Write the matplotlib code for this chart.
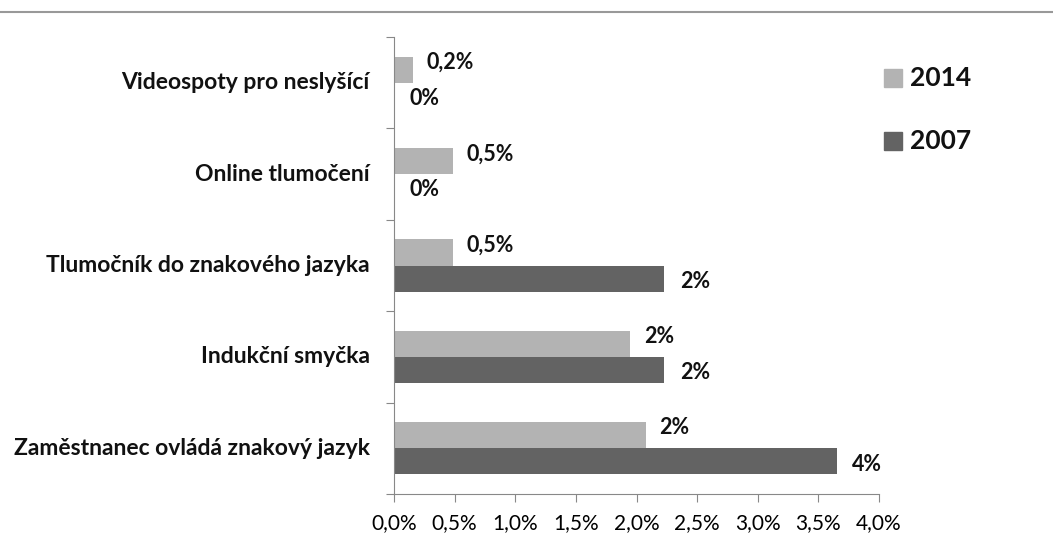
import matplotlib
matplotlib.use("Agg")
import matplotlib.pyplot as plt
import numpy as np
from matplotlib.lines import Line2D
from matplotlib.patches import Rectangle

categories = ["Videospoty pro neslyšící", "Online tlumočení", "Tlumočník do znakového jazyka",
              "Indukční smyčka", "Zaměstnanec ovládá znakový jazyk"]
values_2014 = [0.16, 0.49, 0.49, 1.95, 2.08]
values_2007 = [0.0, 0.0, 2.23, 2.23, 3.65]
labels_2014 = ["0,2%", "0,5%", "0,5%", "2%", "2%"]
labels_2007 = ["0%", "0%", "2%", "2%", "4%"]
xticks = [0.0, 0.5, 1.0, 1.5, 2.0, 2.5, 3.0, 3.5, 4.0]
xtick_labels = ["0,0%", "0,5%", "1,0%", "1,5%", "2,0%", "2,5%", "3,0%", "3,5%", "4,0%"]
series_names = ["2014", "2007"]

c14 = "#b3b3b3"
c07 = "#636363"
font = ["Lato", "DejaVu Sans"]

fig = plt.figure(figsize=(10.53, 5.52), dpi=100)
ax = fig.add_axes([394/1053, 1-494/552, (879-394)/1053, (494-37)/552])

n = len(categories)
ypos = np.arange(n)  # top to bottom
h = 0.285
ax.barh(ypos - h/2, values_2014, height=h, color=c14)
ax.barh(ypos + h/2, values_2007, height=h, color=c07)
ax.set_ylim(n - 0.5, -0.5)
ax.set_xlim(0, 4.0)

for i in range(n):
    ax.text(values_2014[i] + 0.11, ypos[i] - h/2 - 0.08, labels_2014[i], va="center", ha="left",
            fontsize=15.5, fontweight="bold", family=font, color="#111111")
    ax.text(values_2007[i] + 0.13, ypos[i] + h/2 + 0.03, labels_2007[i], va="center", ha="left",
            fontsize=15.5, fontweight="bold", family=font, color="#111111")

ax.set_xticks(xticks)
ax.set_xticklabels(xtick_labels, family=font, fontsize=15)
ax.set_yticks(np.arange(-0.5, n, 1.0))
ax.set_yticklabels([])
ax.tick_params(axis="y", length=6, color="#888888", direction="out")
ax.tick_params(axis="x", length=6, color="#888888", direction="out", pad=8)
for i, c in enumerate(categories):
    ax.text(-0.2, ypos[i], c, ha="right", va="center", fontsize=16.5, fontweight="bold",
            family=font, color="#111111", transform=ax.transData, clip_on=False)

for s in ["top", "right"]:
    ax.spines[s].set_visible(False)
for s in ["left", "bottom"]:
    ax.spines[s].set_color("#888888")

# legend
for k, (name, col) in enumerate(zip(series_names, [c14, c07])):
    y = 1 - (78 + k*63)/552
    fig.patches.append(Rectangle((884/1053, y - 9/552), 18/1053, 18/552, color=col,
                                 transform=fig.transFigure, figure=fig))
    fig.text(910/1053, y, name, va="center", ha="left", fontsize=19, fontweight="bold",
             family=font, color="#111111")

fig.add_artist(Line2D([0, 1], [1-12/552, 1-12/552], color="#999999", lw=1.5,
                      transform=fig.transFigure))

fig.savefig("out.png", dpi=100)
